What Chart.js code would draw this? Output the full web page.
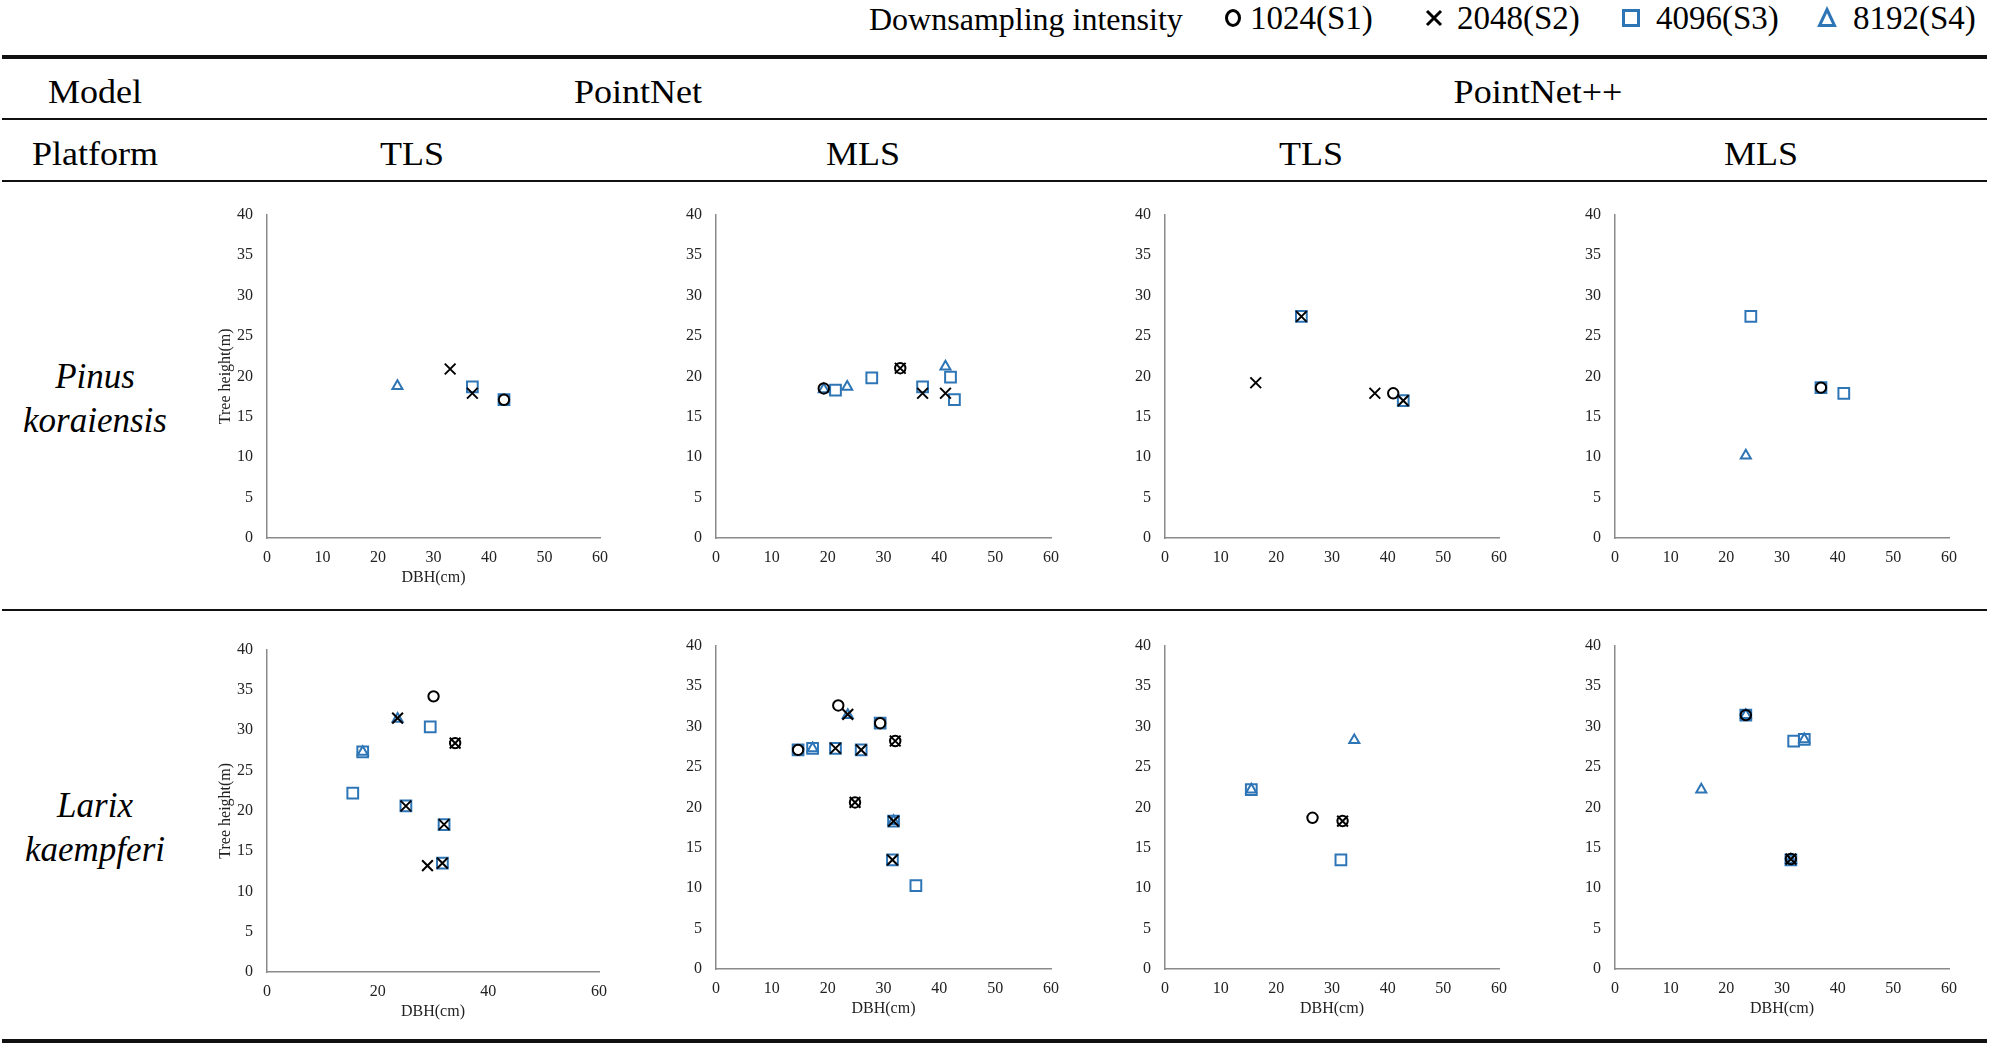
<!DOCTYPE html>
<html><head><meta charset="utf-8">
<script src="https://cdn.jsdelivr.net/npm/chart.js@4.4.1/dist/chart.umd.min.js"></script>
<style>
html,body{margin:0;padding:0;background:#fff;}
#root{position:relative;width:1990px;height:1046px;overflow:hidden;background:#fff;font-family:"Liberation Serif","Times New Roman",serif;color:#000;}
.t{position:absolute;white-space:nowrap;line-height:1;}
.rule{position:absolute;left:2px;width:1985px;background:#111;}
.pan{position:absolute;}
svg{position:absolute;overflow:visible;}
</style></head><body><div id="root"></div>
<script>
// ---------- data ----------
const seriesNames = ['1024(S1)', '2048(S2)', '4096(S3)', '8192(S4)'];
const modelLabels = ['PointNet', 'PointNet++'];
const platformLabels = ['TLS', 'MLS', 'TLS', 'MLS'];
const speciesLabels = [['Pinus', 'koraiensis'], ['Larix', 'kaempferi']];
const yTickValues = [0, 5, 10, 15, 20, 25, 30, 35, 40];

// Pinus koraiensis – PointNet – TLS  [DBH(cm), height(m)]
const pkPnTls_S1 = [[42.7, 17.1]];
const pkPnTls_S2 = [[33.0, 20.9], [37.0, 17.9]];
const pkPnTls_S3 = [[37.0, 18.7], [42.7, 17.1]];
const pkPnTls_S4 = [[23.5, 18.8]];
// Pinus koraiensis – PointNet – MLS
const pkPnMls_S1 = [[19.3, 18.5], [33.0, 21.0]];
const pkPnMls_S2 = [[33.0, 21.0], [37.0, 17.9], [41.1, 17.9]];
const pkPnMls_S3 = [[21.4, 18.3], [27.9, 19.8], [37.0, 18.7], [42.0, 19.9], [42.7, 17.1]];
const pkPnMls_S4 = [[19.3, 18.4], [23.5, 18.7], [41.1, 21.2]];
// Pinus koraiensis – PointNet++ – TLS
const pkPpTls_S1 = [[41.0, 17.9]];
const pkPpTls_S2 = [[16.3, 19.2], [24.5, 27.4], [37.7, 17.9], [42.8, 17.0]];
const pkPpTls_S3 = [[24.5, 27.4], [42.8, 17.0]];
const pkPpTls_S4 = [];
// Pinus koraiensis – PointNet++ – MLS
const pkPpMls_S1 = [[37.0, 18.6]];
const pkPpMls_S2 = [];
const pkPpMls_S3 = [[24.4, 27.4], [37.0, 18.6], [41.1, 17.9]];
const pkPpMls_S4 = [[23.5, 10.2]];
// Larix kaempferi – PointNet – TLS
const lkPnTls_S1 = [[30.1, 34.2], [34.0, 28.4]];
const lkPnTls_S2 = [[23.6, 31.5], [34.0, 28.4], [25.1, 20.6], [32.0, 18.3], [29.0, 13.2], [31.7, 13.5]];
const lkPnTls_S3 = [[29.5, 30.4], [17.3, 27.3], [15.5, 22.2], [25.1, 20.6], [32.0, 18.3], [31.7, 13.5]];
const lkPnTls_S4 = [[23.6, 31.4], [17.3, 27.3]];
// Larix kaempferi – PointNet – MLS
const lkPnMls_S1 = [[21.9, 32.6], [29.4, 30.4], [32.1, 28.2], [14.7, 27.1], [24.9, 20.6]];
const lkPnMls_S2 = [[23.6, 31.5], [32.1, 28.2], [21.4, 27.3], [26.0, 27.1], [24.9, 20.6], [31.8, 18.3], [31.6, 13.5]];
const lkPnMls_S3 = [[29.4, 30.4], [14.7, 27.1], [17.3, 27.3], [21.4, 27.3], [26.0, 27.1], [31.8, 18.3], [31.6, 13.5], [35.8, 10.3]];
const lkPnMls_S4 = [[23.6, 31.4], [17.3, 27.3], [31.8, 18.3]];
// Larix kaempferi – PointNet++ – TLS
const lkPpTls_S1 = [[26.5, 18.7], [31.9, 18.3]];
const lkPpTls_S2 = [[31.9, 18.3]];
const lkPpTls_S3 = [[15.5, 22.2], [31.6, 13.5]];
const lkPpTls_S4 = [[34.0, 28.3], [15.5, 22.2]];
// Larix kaempferi – PointNet++ – MLS
const lkPpMls_S1 = [[23.5, 31.4], [31.6, 13.6]];
const lkPpMls_S2 = [[31.6, 13.6]];
const lkPpMls_S3 = [[23.5, 31.4], [32.1, 28.2], [34.0, 28.4], [31.6, 13.5]];
const lkPpMls_S4 = [[23.5, 31.4], [34.0, 28.4], [15.5, 22.2], [31.6, 13.5]];

// ---------- styles ----------
const FONT = "'Liberation Serif','Times New Roman',serif";
const BLACK = '#000000';
const BLUE = '#2E75B6';
const AXIS = '#8a8a8a';
const markerStyles = [
  { pointStyle: 'circle', color: BLACK, r: 5.2 },
  { pointStyle: 'crossRot', color: BLACK, r: 7.6 },
  { pointStyle: 'rect', color: BLUE, r: 7.6 },
  { pointStyle: 'triangle', color: BLUE, r: 5.8 }
];

const root = document.getElementById('root');

function text(str, x, baseline, size, opts) {
  opts = opts || {};
  const d = document.createElement('div');
  d.className = 't';
  d.textContent = str;
  d.style.fontSize = size + 'px';
  d.style.left = x + 'px';
  d.style.top = (baseline - 0.8375 * size) + 'px';
  if (opts.italic) d.style.fontStyle = 'italic';
  const sx = opts.sx || 1;
  if (opts.align === 'left') {
    d.style.transformOrigin = 'left center';
    d.style.transform = 'scaleX(' + sx + ')';
  } else {
    d.style.transform = 'translateX(-50%) scaleX(' + sx + ')';
  }
  root.appendChild(d);
}
function rule(y, h) {
  const d = document.createElement('div');
  d.className = 'rule';
  d.style.top = y + 'px';
  d.style.height = h + 'px';
  root.appendChild(d);
}

// ---------- table frame ----------
rule(55, 4);
rule(118, 2);
rule(180, 2);
rule(609, 2);
rule(1039, 4);

const HS = 34, HSX = 1.06;
text('Model', 95, 103, HS, { sx: HSX });
text(modelLabels[0], 638, 103, HS, { sx: HSX });
text(modelLabels[1], 1538, 103, HS, { sx: HSX });
text('Platform', 95, 165, HS, { sx: HSX });
const platX = [412, 863, 1311, 1761];
platformLabels.forEach((p, i) => text(p, platX[i], 165, HS, { sx: HSX }));

text(speciesLabels[0][0], 95, 388, 35, { italic: true });
text(speciesLabels[0][1], 95, 432, 35, { italic: true });
text(speciesLabels[1][0], 95, 817, 35, { italic: true });
text(speciesLabels[1][1], 95, 861, 35, { italic: true });

// ---------- legend ----------
text('Downsampling intensity', 869, 30, 32, { align: 'left' });
const legMarkX = [1233, 1434, 1631, 1827];
const legTextX = [1250, 1457, 1656, 1853];
const svgNS = 'http://www.w3.org/2000/svg';
function legendMarker(kind, cx, cy) {
  const s = document.createElementNS(svgNS, 'svg');
  s.setAttribute('width', 24); s.setAttribute('height', 24);
  s.style.left = (cx - 12) + 'px'; s.style.top = (cy - 12) + 'px';
  let html = '';
  if (kind === 0) html = '<ellipse cx="12" cy="12" rx="6.5" ry="7.5" fill="none" stroke="#000" stroke-width="3"/>';
  if (kind === 1) html = '<path d="M5 5 L19 19 M19 5 L5 19" stroke="#000" stroke-width="3" fill="none"/>';
  if (kind === 2) html = '<rect x="4.5" y="4.5" width="15" height="15" fill="none" stroke="' + BLUE + '" stroke-width="3"/>';
  if (kind === 3) html = '<path d="M12 3.5 L19.5 19.5 L4.5 19.5 Z" fill="none" stroke="' + BLUE + '" stroke-width="3" stroke-linejoin="miter"/>';
  s.innerHTML = html;
  root.appendChild(s);
}
seriesNames.forEach((n, i) => {
  legendMarker(i, legMarkX[i], 18);
  text(n, legTextX[i], 30, 33, { align: 'left' });
});

// ---------- panels ----------
const toPts = arr => arr.map(p => ({ x: p[0], y: p[1] }));
const panels = [
  { area: [267, 211, 600, 538], series: [pkPnTls_S1, pkPnTls_S2, pkPnTls_S3, pkPnTls_S4], xStep: 10, xTitle: true, yTitle: true },
  { area: [716, 211, 1051, 538], series: [pkPnMls_S1, pkPnMls_S2, pkPnMls_S3, pkPnMls_S4], xStep: 10, xTitle: false, yTitle: false },
  { area: [1165, 211, 1499, 538], series: [pkPpTls_S1, pkPpTls_S2, pkPpTls_S3, pkPpTls_S4], xStep: 10, xTitle: false, yTitle: false },
  { area: [1615, 211, 1949, 538], series: [pkPpMls_S1, pkPpMls_S2, pkPpMls_S3, pkPpMls_S4], xStep: 10, xTitle: false, yTitle: false },
  { area: [267, 646, 599, 972], series: [lkPnTls_S1, lkPnTls_S2, lkPnTls_S3, lkPnTls_S4], xStep: 20, xTitle: true, yTitle: true },
  { area: [716, 642, 1051, 969], series: [lkPnMls_S1, lkPnMls_S2, lkPnMls_S3, lkPnMls_S4], xStep: 10, xTitle: true, yTitle: false },
  { area: [1165, 642, 1499, 969], series: [lkPpTls_S1, lkPpTls_S2, lkPpTls_S3, lkPpTls_S4], xStep: 10, xTitle: true, yTitle: false },
  { area: [1615, 642, 1949, 969], series: [lkPpMls_S1, lkPpMls_S2, lkPpMls_S3, lkPpMls_S4], xStep: 10, xTitle: true, yTitle: false }
];

const WY = 70, HX = 60, PT = 20, PR = 20;
panels.forEach(p => {
  const [l, t, r, b] = p.area;
  const w = (r - l) + WY + PR, h = (b - t) + PT + HX;
  const div = document.createElement('div');
  div.className = 'pan';
  div.style.left = (l - WY) + 'px';
  div.style.top = (t - PT) + 'px';
  div.style.width = w + 'px';
  div.style.height = h + 'px';
  const cv = document.createElement('canvas');
  cv.width = w; cv.height = h;
  cv.style.width = w + 'px'; cv.style.height = h + 'px';
  div.appendChild(cv);
  root.appendChild(div);

  const datasets = p.series.map((arr, i) => ({
    label: seriesNames[i],
    data: toPts(arr),
    showLine: false,
    pointStyle: markerStyles[i].pointStyle,
    pointRadius: markerStyles[i].r,
    pointHoverRadius: markerStyles[i].r,
    pointBorderWidth: 2,
    pointBorderColor: markerStyles[i].color,
    pointBackgroundColor: 'rgba(0,0,0,0)',
    borderColor: markerStyles[i].color,
    backgroundColor: 'rgba(0,0,0,0)'
  }));

  new Chart(cv, {
    type: 'scatter',
    data: { datasets },
    options: {
      responsive: false,
      animation: false,
      devicePixelRatio: 1,
      events: [],
      layout: { padding: { top: PT, right: PR, left: 0, bottom: 0 } },
      plugins: { legend: { display: false }, tooltip: { enabled: false } },
      scales: {
        x: {
          type: 'linear', min: 0, max: 60,
          ticks: { stepSize: p.xStep, padding: 10, color: '#222', font: { family: FONT, size: 16 } },
          grid: { display: false, drawTicks: false },
          border: { display: true, color: AXIS, width: 1.5 },
          title: { display: p.xTitle, text: 'DBH(cm)', color: '#222', font: { family: FONT, size: 16 }, padding: { top: 0, bottom: 10.4 } },
          afterFit(s) { s.height = HX; }
        },
        y: {
          type: 'linear', min: 0, max: 40,
          afterBuildTicks(s) { s.ticks = yTickValues.map(v => ({ value: v })); },
          ticks: { stepSize: 5, padding: 14, color: '#222', font: { family: FONT, size: 16 } },
          grid: { display: false, drawTicks: false },
          border: { display: true, color: AXIS, width: 1.5 },
          title: { display: p.yTitle, text: 'Tree height(m)', color: '#222', font: { family: FONT, size: 16 }, padding: { top: 19.4, bottom: 0 } },
          afterFit(s) { s.width = WY; }
        }
      }
    }
  });
});
</script></body></html>
